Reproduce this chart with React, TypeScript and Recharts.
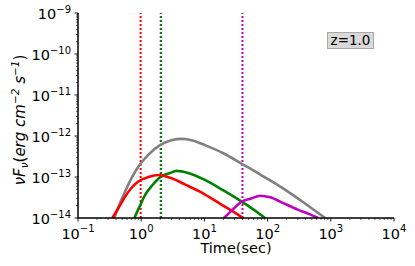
import React from "react";
import {
  LineChart,
  Line,
  XAxis,
  YAxis,
  ReferenceLine,
} from "recharts";

// light curves, time (sec) vs nuFnu (erg cm^-2 s^-1)
const grayT = [0.375, 0.45, 0.555, 0.7, 0.9, 1.3, 1.98, 3, 4.4, 6.5, 10.2, 20, 39, 80, 178, 400, 810];
const grayF = [1e-14, 2.1e-14, 4.4e-14, 9.3e-14, 1.78e-13, 3.5e-13, 6.0e-13, 7.9e-13, 8.5e-13, 7.8e-13, 6.0e-13, 3.8e-13, 2.1e-13, 1.1e-13, 5.2e-14, 2.2e-14, 1e-14];

const redT = [0.35, 0.45, 0.555, 0.7, 0.9, 1.3, 1.86, 3.04, 5, 8.5, 15, 25.4, 41];
const redF = [1e-14, 1.9e-14, 3.3e-14, 5.4e-14, 7.8e-14, 1.0e-13, 1.12e-13, 9.3e-14, 6.5e-14, 4.4e-14, 2.6e-14, 1.6e-14, 1e-14];

const greenT = [0.78, 0.95, 1.15, 1.5, 2.05, 2.8, 3.63, 5.5, 10.2, 20, 39, 60, 91];
const greenF = [1e-14, 1.95e-14, 3.6e-14, 6.3e-14, 1.02e-13, 1.23e-13, 1.41e-13, 1.26e-13, 8.5e-14, 4.7e-14, 2.5e-14, 1.6e-14, 1e-14];

const magentaT = [20.4, 28, 39, 55, 76, 110, 178, 300, 450, 630];
const magentaF = [1e-14, 1.6e-14, 2.5e-14, 3.0e-14, 3.5e-14, 3.2e-14, 2.3e-14, 1.6e-14, 1.26e-14, 1e-14];

// vertical markers
const redMark = 0.98;
const greenMark = 2.05;
const magentaMark = 40;

const xMajor = [0.1, 1, 10, 100, 1000, 10000];
const xExp = ["−1", "0", "1", "2", "3", "4"];
const yMajor = [1e-14, 1e-13, 1e-12, 1e-11, 1e-10, 1e-9];
const yExp = ["−14", "−13", "−12", "−11", "−10", "−9"];

const withMinor = (majors: number[]) => {
  const out: number[] = [];
  majors.forEach((m, i) => {
    out.push(m);
    if (i < majors.length - 1) for (let k = 2; k <= 9; k++) out.push(m * k);
  });
  return out;
};

const zip = (t: number[], f: number[]) => t.map((v, i) => ({ t: v, f: f[i] }));

const FONT = "'DejaVu Sans', sans-serif";

const majorIndex = (v: number, majors: number[]) =>
  majors.findIndex((m) => Math.abs(Math.log10(v) - Math.log10(m)) < 1e-6);

const XTick = (props: any) => {
  const { x, y, payload } = props;
  const i = majorIndex(payload.value, xMajor);
  const len = i >= 0 ? 3.5 : 2;
  return (
    <g>
      <line x1={x} x2={x} y1={y} y2={y + len} stroke="#000" strokeWidth={i >= 0 ? 0.9 : 0.6} />
      {i >= 0 && (
        <text x={x} y={y + 20.5} textAnchor="middle" fontFamily={FONT} fontSize={14.5} fill="#000">
          10
          <tspan fontSize={10} dy={-6.5}>{xExp[i]}</tspan>
        </text>
      )}
    </g>
  );
};

const YTick = (props: any) => {
  const { x, y, payload } = props;
  const i = majorIndex(payload.value, yMajor);
  const len = i >= 0 ? 3.5 : 2;
  return (
    <g>
      <line x1={x - len} x2={x} y1={y} y2={y} stroke="#000" strokeWidth={i >= 0 ? 0.9 : 0.6} />
      {i >= 0 && (
        <text x={x - 7} y={y + 6} textAnchor="end" fontFamily={FONT} fontSize={14.5} fill="#000">
          10
          <tspan fontSize={10} dy={-6.5}>{yExp[i]}</tspan>
        </text>
      )}
    </g>
  );
};

export default function App() {
  return (
    <div style={{ position: "absolute", left: 0, top: 0, width: 415, height: 266, background: "#fff" }}>
      <LineChart width={415} height={266} margin={{ top: 13, right: 21, bottom: 0, left: 0 }}>
        <XAxis
          xAxisId="b"
          dataKey="t"
          type="number"
          scale="log"
          domain={[0.1, 10000]}
          allowDataOverflow
          ticks={withMinor(xMajor)}
          interval={0}
          tick={<XTick />}
          tickLine={false}
          tickSize={0}
          tickMargin={0}
          height={48}
          axisLine={{ stroke: "#000", strokeWidth: 1.5 }}
        />
        <XAxis xAxisId="top" orientation="top" dataKey="t" type="number" scale="log" domain={[0.1, 10000]} height={0} tick={false} tickLine={false} axisLine={{ stroke: "#000", strokeWidth: 1.5 }} />
        <YAxis
          yAxisId="l"
          dataKey="f"
          type="number"
          scale="log"
          domain={[1e-14, 1e-9]}
          allowDataOverflow
          ticks={withMinor(yMajor)}
          interval={0}
          tick={<YTick />}
          tickLine={false}
          tickSize={0}
          tickMargin={0}
          width={78}
          axisLine={{ stroke: "#000", strokeWidth: 1.5 }}
        />
        <YAxis yAxisId="r" orientation="right" dataKey="f" type="number" scale="log" domain={[1e-14, 1e-9]} width={0} tick={false} tickLine={false} axisLine={{ stroke: "#000", strokeWidth: 1.5 }} />

        <ReferenceLine xAxisId="b" yAxisId="l" x={redMark} stroke="#ff0000" strokeWidth={2} strokeDasharray="2 2" />
        <ReferenceLine xAxisId="b" yAxisId="l" x={greenMark} stroke="#808080" strokeWidth={2.6} strokeDasharray="2 2" />
        <ReferenceLine xAxisId="b" yAxisId="l" x={greenMark} stroke="#008000" strokeWidth={1.8} strokeDasharray="2 2" />
        <ReferenceLine xAxisId="b" yAxisId="l" x={magentaMark} stroke="#bf00bf" strokeWidth={2} strokeDasharray="2 2" />

        <Line xAxisId="b" yAxisId="l" data={zip(grayT, grayF)} dataKey="f" type="monotone" stroke="#808080" strokeWidth={2.6} dot={false} isAnimationActive={false} />
        <Line xAxisId="b" yAxisId="l" data={zip(greenT, greenF)} dataKey="f" type="monotone" stroke="#008000" strokeWidth={2.6} dot={false} isAnimationActive={false} />
        <Line xAxisId="b" yAxisId="l" data={zip(redT, redF)} dataKey="f" type="monotone" stroke="#ff0000" strokeWidth={2.6} dot={false} isAnimationActive={false} />
        <Line xAxisId="b" yAxisId="l" data={zip(magentaT, magentaF)} dataKey="f" type="monotone" stroke="#bf00bf" strokeWidth={2.6} dot={false} isAnimationActive={false} />

        <text x={236} y={253} textAnchor="middle" fontFamily={FONT} fontSize={14.5} fill="#000">
          Time(sec)
        </text>
        <text transform="translate(25,120) rotate(-90)" textAnchor="middle" fontFamily={FONT} fontSize={15} fill="#000">
          <tspan fontStyle="italic">νF</tspan>
          <tspan fontStyle="italic" fontSize={10.5} dy={3}>ν</tspan>
          <tspan dy={-3}>(</tspan>
          <tspan fontStyle="italic">erg cm</tspan>
          <tspan fontStyle="italic" fontSize={10.5} dy={-6.5}>−2</tspan>
          <tspan fontStyle="italic" dy={6.5}> s</tspan>
          <tspan fontStyle="italic" fontSize={10.5} dy={-6.5}>−1</tspan>
          <tspan dy={6.5}>)</tspan>
        </text>
      </LineChart>
      <div
        style={{
          position: "absolute",
          left: 327,
          top: 32,
          width: 45,
          height: 15,
          background: "#d9d9d9",
          border: "1px solid #a8a8a8",
          fontFamily: FONT,
          fontSize: 13.5,
          lineHeight: "15px",
          textAlign: "center",
          color: "#000",
        }}
      >
        z=1.0
      </div>
    </div>
  );
}
